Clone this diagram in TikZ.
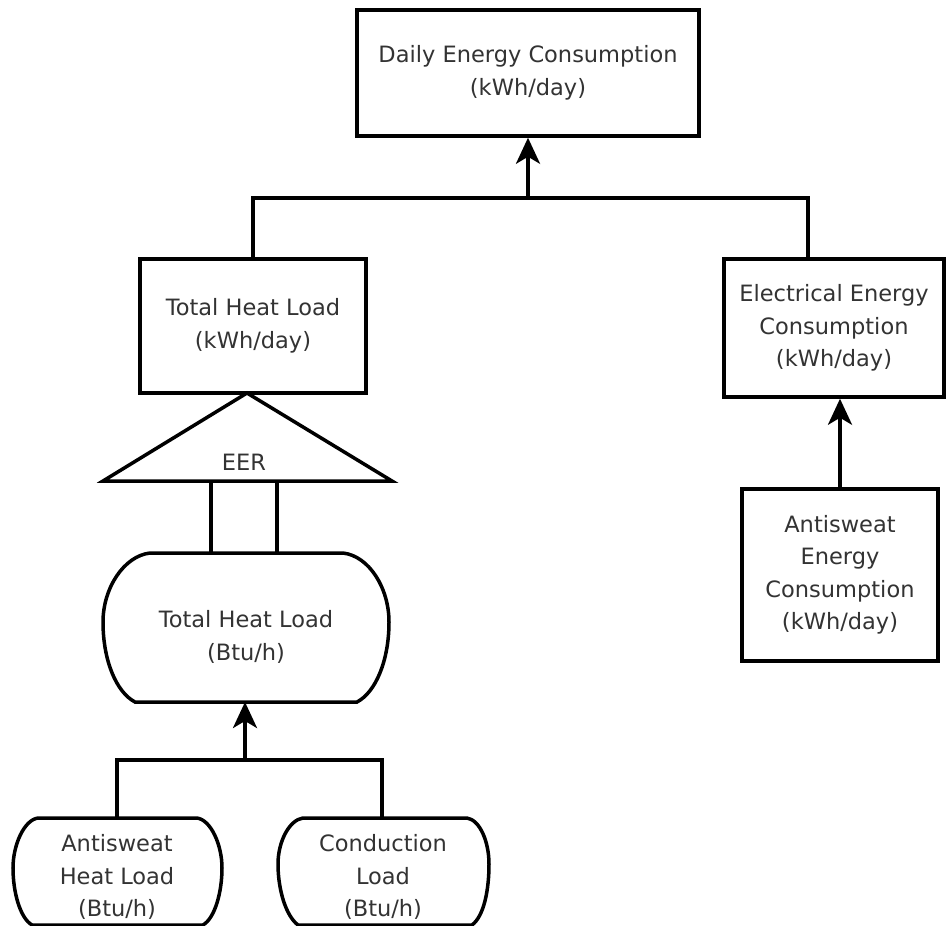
\documentclass[tikz,border=0pt]{standalone}
\usepackage{fontspec}
\setmainfont{DejaVu Sans}
\usetikzlibrary{arrows.meta}
\newcommand\diagfont{\fontsize{22.5}{32.5}\selectfont}
\begin{document}
\begin{tikzpicture}[x=1pt,y=-1pt,
  line/.style={line width=3.5pt, draw=black, line join=miter},
  arr/.style={line, -{Stealth[length=26pt,width=24pt,inset=7pt]}},
  boxnode/.style n args={2}{draw=black, line width=3.5pt, rectangle, inner sep=0pt,
    minimum width=#1pt, minimum height=#2pt, text=black!80, align=center, font=\diagfont},
  txt/.style={text=black!80, align=center, font=\diagfont, inner sep=0pt}]

\useasboundingbox (0,0) rectangle (948,926);
\fill[white] (0,0) rectangle (948,926);

% rectangular boxes
\node[boxnode={342}{126}] (daily) at (528,73) {Daily Energy Consumption\\(kWh/day)};
\node[boxnode={226}{134}] (thlk) at (253,326) {Total Heat Load\\(kWh/day)};
\node[boxnode={220}{138}] (elec) at (834,328) {Electrical Energy\\Consumption\\(kWh/day)};
\node[boxnode={196}{172}] (ase) at (840,575) {Antisweat\\Energy\\Consumption\\(kWh/day)};

% EER triangle
\coordinate (apex) at (247,393);
\coordinate (baseL) at (103,481);
\coordinate (baseR) at (392,481);
\draw[line] (apex) -- (baseR) -- (baseL) -- cycle;
\node[txt] (eer) at (244,462) {EER};

% stores with arched sides
\draw[line] (150,553) -- (343,553)
  .. controls (369,556) and (389,588) .. (389,622)
  .. controls (389,660) and (376,692) .. (357,702) -- (135,702)
  .. controls (116,692) and (103,660) .. (103,622)
  .. controls (103,588) and (124,556) .. (150,553) -- cycle;
\node[txt] (thlb) at (246,637) {Total Heat Load\\(Btu/h)};
\coordinate (thlbbot) at (245,702);

\draw[line] (38,818) -- (197,818)
  .. controls (211,820) and (222,845) .. (222,868)
  .. controls (222,892) and (215,918) .. (203,925) -- (32,925)
  .. controls (20,918) and (13,892) .. (13,868)
  .. controls (13,845) and (24,820) .. (38,818) -- cycle;
\node[txt] (ahl) at (117,877) {Antisweat\\Heat Load\\(Btu/h)};
\coordinate (ahltop) at (117,818);

\draw[line] (303,818) -- (467,818)
  .. controls (480,820) and (489,842) .. (489,864)
  .. controls (489,890) and (484,916) .. (472,925) -- (298,925)
  .. controls (286,916) and (278,890) .. (278,864)
  .. controls (278,842) and (289,820) .. (303,818) -- cycle;
\node[txt] (cl) at (383,877) {Conduction\\Load\\(Btu/h)};
\coordinate (cltop) at (382,818);

% connectors
\coordinate (topbus) at (528,198);
\coordinate (elecin) at (808,259);
\draw[line] (thlk.north) |- (topbus) -| (elecin);
\draw[arr] (topbus) -- (daily.south);

\draw[line] (211,481) -- (211,553);
\draw[line] (277,481) -- (277,553);

\coordinate (lowbus) at (245,760);
\draw[line] (ahltop) |- (lowbus) -| (cltop);
\draw[arr] (lowbus) -- (thlbbot);

\draw[arr] (ase.north) -- (ase.north |- elec.south);
\end{tikzpicture}
\end{document}
